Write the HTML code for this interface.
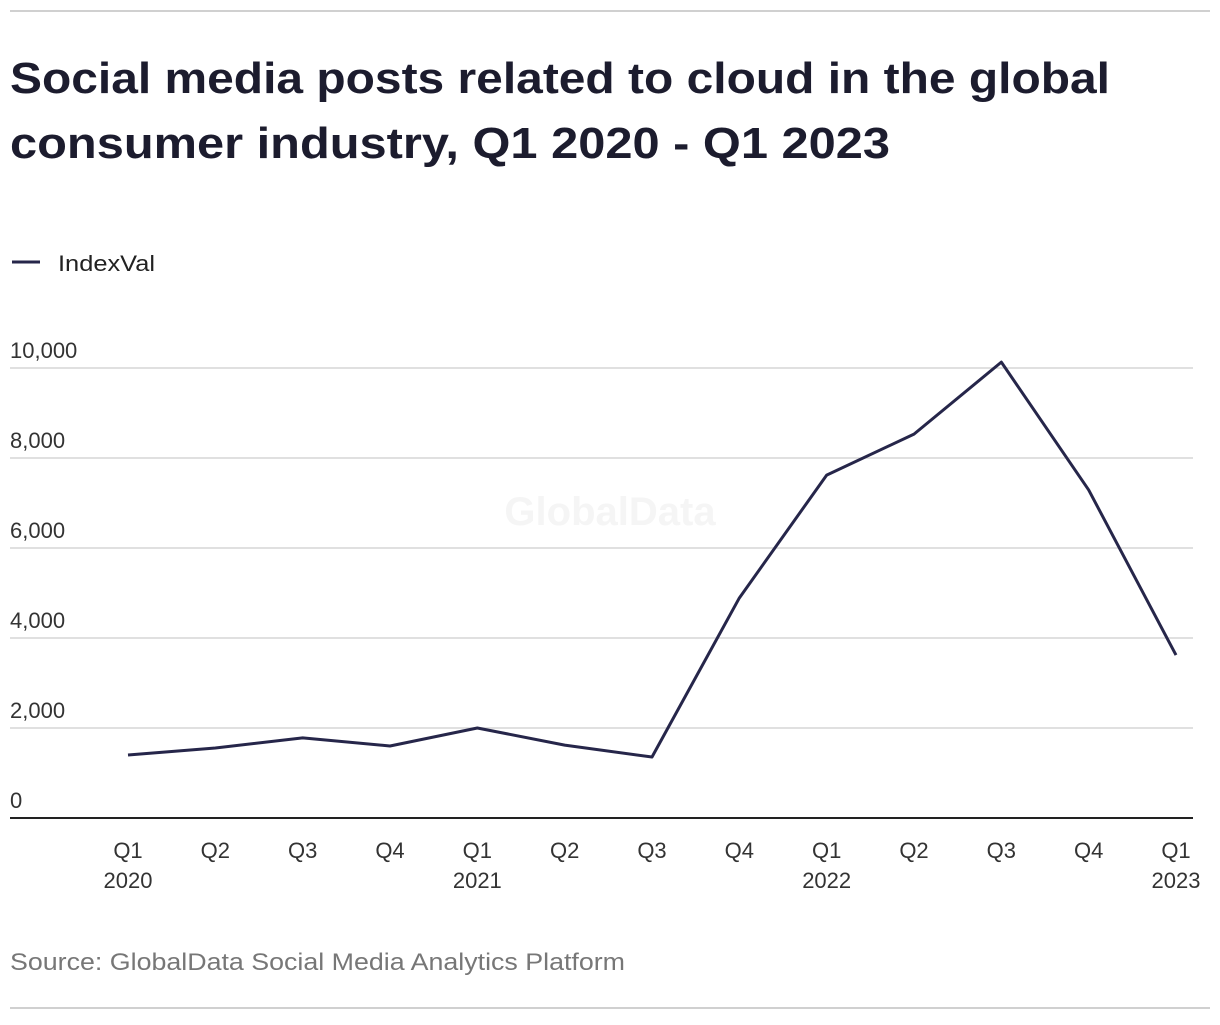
<!DOCTYPE html>
<html><head><meta charset="utf-8"><style>
body{margin:0;background:#fff;width:1220px;height:1020px;overflow:hidden;font-family:"Liberation Sans",sans-serif;}
</style></head><body>
<svg width="1220" height="1020" xmlns="http://www.w3.org/2000/svg">
<line x1="10" y1="11" x2="1210" y2="11" stroke="#d0d0d0" stroke-width="2"/>
<text x="10" y="93" font-size="44" font-weight="bold" fill="#1c1c2e" textLength="1100" lengthAdjust="spacingAndGlyphs">Social media posts related to cloud in the global</text>
<text x="10" y="158" font-size="44" font-weight="bold" fill="#1c1c2e" textLength="880" lengthAdjust="spacingAndGlyphs">consumer industry, Q1 2020 - Q1 2023</text>
<line x1="12" y1="262" x2="40" y2="262" stroke="#26264a" stroke-width="3"/>
<text x="58" y="271" font-size="22" fill="#222" textLength="97" lengthAdjust="spacingAndGlyphs">IndexVal</text>
<text x="610" y="525" font-size="40" font-weight="bold" fill="#f5f5f5" text-anchor="middle">GlobalData</text>
<g id="grid"></g><g id="plot"></g>
<line x1="10" y1="1008" x2="1210" y2="1008" stroke="#d0d0d0" stroke-width="2"/>
<text x="10" y="970" font-size="24" fill="#777" textLength="615" lengthAdjust="spacingAndGlyphs">Source: GlobalData Social Media Analytics Platform</text>
</svg>
<script>
const categories=["Q1|2020","Q2","Q3","Q4","Q1|2021","Q2","Q3","Q4","Q1|2022","Q2","Q3","Q4","Q1|2023"];
const values=[1400,1555,1780,1600,2000,1620,1355,4890,7620,8530,10130,7290,3620];
const yTicks=[0,2000,4000,6000,8000,10000];
const yTickLabels=["0","2,000","4,000","6,000","8,000","10,000"];
const NS="http://www.w3.org/2000/svg";
const x=i=>128+i*(1176-128)/(categories.length-1);
const y=v=>818-v*0.045;
const grid=document.getElementById('grid'),plot=document.getElementById('plot');
function mk(tag,attrs,parent){const e=document.createElementNS(NS,tag);for(const k in attrs)e.setAttribute(k,attrs[k]);parent.appendChild(e);return e;}
yTicks.forEach((t,i)=>{
 const l=mk('line',{x1:10,x2:1193,y1:y(t),y2:y(t),stroke:t===0?'#222':'#d6d6d6','stroke-width':t===0?2:1.5},grid);
 
 
 const tx=mk('text',{x:10,y:y(t)-10,'font-size':22,fill:'#333'},grid);tx.textContent=yTickLabels[i];
 
 
});
categories.forEach((c,i)=>{
 c.split('|').forEach((s,j)=>{
  const tx=mk('text',{x:x(i),y:858+j*30,'font-size':22,fill:'#333','text-anchor':'middle'},grid);tx.textContent=s;
  
  
 });
});
const p=mk('polyline',{points:values.map((v,i)=>x(i)+','+y(v)).join(' '),fill:'none',stroke:'#26264a','stroke-width':3,'stroke-linejoin':'round'},plot);


</script>
</body></html>
